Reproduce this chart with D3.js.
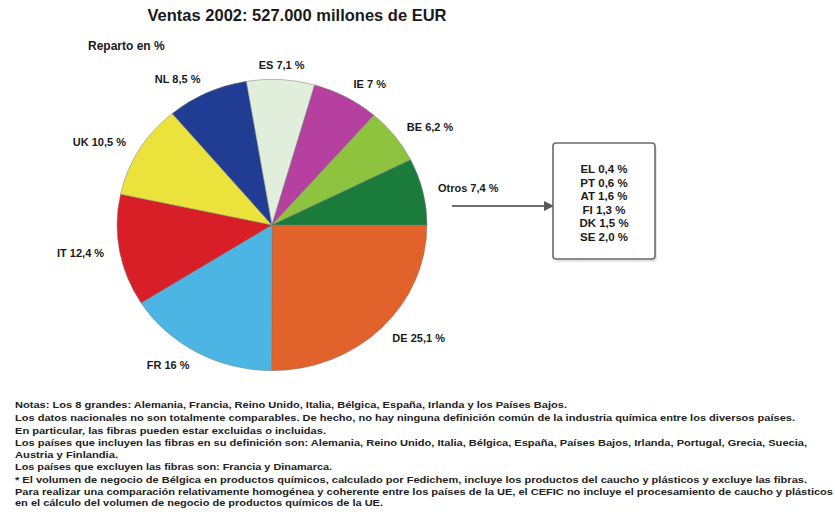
<!DOCTYPE html>
<html>
<head>
<meta charset="utf-8">
<script src="https://cdn.jsdelivr.net/npm/d3@7"></script>
<style>
  html, body { margin: 0; padding: 0; background: #ffffff; }
  svg { display: block; }
  text { font-family: "Liberation Sans", Arial, sans-serif; font-weight: bold; fill: #1a1a1a; }
</style>
</head>
<body>
<script>
// Sales share by country, 2002 (%)
const countries = ["DE", "FR", "IT", "UK", "NL", "ES", "IE", "BE", "Otros"];
const shares = [25.1, 16, 12.4, 10.5, 8.5, 7.1, 7, 6.2, 7.4];
const sliceColors = ["#e2622b", "#4cb5e3", "#d81f27", "#ebe33c", "#203d93", "#e1eedb", "#b5409f", "#8dc33e", "#1b7b3b"];

// Breakdown of "Otros"
const otherCountries = ["EL", "PT", "AT", "FI", "DK", "SE"];
const otherShares = [0.4, 0.6, 1.6, 1.3, 1.5, 2.0];

const titleText = "Ventas 2002: 527.000 millones de EUR";
const subtitleText = "Reparto en %";
const notes = [
  "Notas: Los 8 grandes: Alemania, Francia, Reino Unido, Italia, Bélgica, España, Irlanda y los Países Bajos.",
  "Los datos nacionales no son totalmente comparables. De hecho, no hay ninguna definición común de la industria química entre los diversos países.",
  "En particular, las fibras pueden estar excluidas o incluidas.",
  "Los países que incluyen las fibras en su definición son: Alemania, Reino Unido, Italia, Bélgica, España, Países Bajos, Irlanda, Portugal, Grecia, Suecia,",
  "Austria y Finlandia.",
  "Los países que excluyen las fibras son: Francia y Dinamarca.",
  "* El volumen de negocio de Bélgica en productos químicos, calculado por Fedichem, incluye los productos del caucho y plásticos y excluye las fibras.",
  "Para realizar una comparación relativamente homogénea y coherente entre los países de la UE, el CEFIC no incluye el procesamiento de caucho y plásticos",
  "en el cálculo del volumen de negocio de productos químicos de la UE."
];

const fmt = v => String(v).replace(".", ",") + " %";
const fmt1 = v => v.toFixed(1).replace(".", ",") + " %";

const W = 835, H = 514;
const svg = d3.select("body").append("svg").attr("width", W).attr("height", H);

// Title block
svg.append("text").attr("x", 297).attr("y", 21).attr("text-anchor", "middle")
  .style("font-size", "16.5px").text(titleText);
svg.append("text").attr("x", 88).attr("y", 50)
  .style("font-size", "12px").text(subtitleText);

// Pie (slightly flattened vertically)
const cx = 272, cy = 225, R = 155, flatten = 0.94;
const data = countries.map((c, i) => ({ name: c, value: shares[i], color: sliceColors[i] }));
const pie = d3.pie().value(d => d.value).sort(null)
  .startAngle(Math.PI / 2).endAngle(Math.PI / 2 + 2 * Math.PI);
const arcs = pie(data);
const arc = d3.arc().innerRadius(0).outerRadius(R);

const pg = svg.append("g").attr("transform", `translate(${cx},${cy}) scale(1,${flatten})`);
pg.selectAll("path").data(arcs).join("path")
  .attr("d", arc)
  .attr("fill", d => d.data.color)
  .attr("stroke", "#7a7a7a")
  .attr("stroke-width", 0.5);

// Slice labels placed just outside the rim
const labelR = R * 1.1;
svg.append("g").selectAll("text").data(arcs).join("text")
  .each(function (d) {
    const a = (d.startAngle + d.endAngle) / 2;
    const x = cx + labelR * Math.sin(a);
    const y = cy - labelR * Math.cos(a) * flatten;
    const s = Math.sin(a);
    const anchor = Math.abs(s) < 0.15 ? "middle" : (s > 0 ? "start" : "end");
    d3.select(this).attr("x", x).attr("y", y).attr("dy", "0.35em").attr("text-anchor", anchor);
  })
  .style("font-size", "11px")
  .text(d => d.data.name + " " + fmt(d.data.value));

// Connector arrow to the breakdown box
const boxX = 553, boxY = 143, boxW = 102, boxH = 116;
const defs = svg.append("defs");
defs.append("marker").attr("id", "arrowhead").attr("viewBox", "0 0 10 10")
  .attr("refX", 9).attr("refY", 5).attr("markerWidth", 5).attr("markerHeight", 5)
  .attr("orient", "auto")
  .append("path").attr("d", "M0,0 L10,5 L0,10 Z").attr("fill", "#5a5a5a");
svg.append("line").attr("x1", 452).attr("y1", 206).attr("x2", boxX).attr("y2", 206)
  .attr("stroke", "#6e6e6e").attr("stroke-width", 2).attr("marker-end", "url(#arrowhead)");

// Breakdown box
svg.append("rect").attr("x", boxX + 2).attr("y", boxY + 3).attr("width", boxW).attr("height", boxH)
  .attr("fill", "#e6e6e6").attr("rx", 3);
svg.append("rect").attr("x", boxX).attr("y", boxY).attr("width", boxW).attr("height", boxH)
  .attr("fill", "#ffffff").attr("stroke", "#6a6a6a").attr("stroke-width", 1.6).attr("rx", 3);
const rowY = d3.scalePoint().domain(otherCountries).range([169, 237]);
svg.append("g").selectAll("text").data(otherCountries).join("text")
  .attr("x", boxX + boxW / 2).attr("y", d => rowY(d)).attr("dy", "0.35em")
  .attr("text-anchor", "middle").style("font-size", "11.5px")
  .text((d, i) => d + " " + fmt1(otherShares[i]));

// Notes
const noteY = [405, 418, 431, 443, 455, 467, 480, 492, 503];
const noteEnd = [567, 795, 326, 807, 118, 332, 807, 833, 383];
svg.append("g").selectAll("text").data(notes).join("text")
  .attr("x", 15).attr("y", (d, i) => noteY[i]).attr("dy", "0.35em")
  .style("font-size", "8.5px").style("fill", "#222")
  .attr("textLength", (d, i) => noteEnd[i] - 15)
  .attr("lengthAdjust", "spacingAndGlyphs")
  .text(d => d);
</script>
</body>
</html>
